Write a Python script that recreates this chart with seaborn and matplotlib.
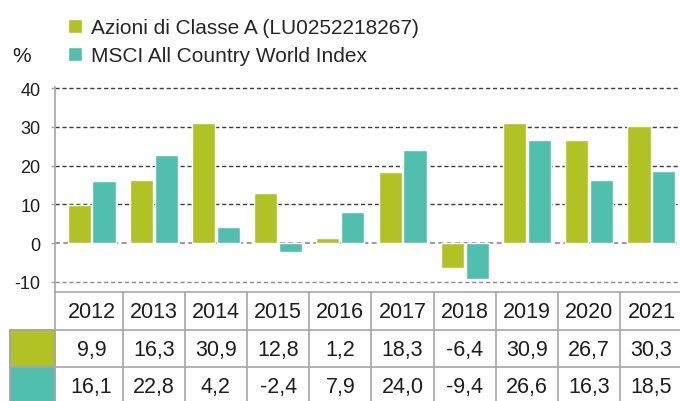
import numpy as np
import pandas as pd
import seaborn as sns
import matplotlib.pyplot as plt
from matplotlib.patches import Rectangle

# data
anni = ['2012', '2013', '2014', '2015', '2016', '2017', '2018', '2019', '2020', '2021']
classe_a = [9.9, 16.3, 30.9, 12.8, 1.2, 18.3, -6.4, 30.9, 26.7, 30.3]
msci_acwi = [16.1, 22.8, 4.2, -2.4, 7.9, 24.0, -9.4, 26.6, 16.3, 18.5]
serie = ['Azioni di Classe A (LU0252218267)', 'MSCI All Country World Index']
y_ticks = [-10, 0, 10, 20, 30, 40]

OLIVE = '#b1c324'
TEAL = '#50bfae'
GRID = '#a6a6a6'
TXT = '#1e1e1e'

sns.set_theme(style='white')
plt.rcParams['font.family'] = ['Liberation Sans', 'DejaVu Sans']
plt.rcParams['axes.unicode_minus'] = False

df = pd.DataFrame({
    'anno': anni * 2,
    'valore': classe_a + msci_acwi,
    'serie': [serie[0]] * len(anni) + [serie[1]] * len(anni),
})

W, H = 680, 402
fig = plt.figure(figsize=(W / 100, H / 100), dpi=100)


def px_box(x0, y0, x1, y1):
    return [x0 / W, 1 - y1 / H, (x1 - x0) / W, (y1 - y0) / H]


ax = fig.add_axes(px_box(54.5, 88, 680, 293))
sns.barplot(data=df, x='anno', y='valore', hue='serie', order=anni,
            palette=[OLIVE, TEAL], width=0.8, gap=0.07, saturation=1,
            ax=ax)

xlim = (-0.595, 9.46)
ax.set_xlim(*xlim)
ax.set_ylim(-12.63, 40.26)
ax.set_yticks(y_ticks)
ax.set_yticklabels([str(t) for t in y_ticks], fontsize=13, color=TXT)
ax.set_xticks([])
ax.set_xlabel('')
ax.set_ylabel('')
for s in ['top', 'right', 'bottom']:
    ax.spines[s].set_visible(False)
ax.spines['left'].set_color(GRID)
ax.spines['left'].set_linewidth(1.2)
ax.tick_params(axis='y', length=3, width=1, color=GRID, pad=7, left=True)
ax.set_axisbelow(True)
for t in y_ticks:
    ax.axhline(t, color='#8a8a8a' if t in (0, -10) else '#3c3c3c',
               lw=1.2 if t == 0 else 1.0, ls=(0, (3, 2)), zorder=0)

# legend
handles, labels = ax.get_legend_handles_labels()
ax.get_legend().remove()
fig.legend(handles, labels, loc='upper left', bbox_to_anchor=(68 / W, 1 - 19 / H),
           frameon=False, fontsize=15, handlelength=0.67, handleheight=0.67,
           handletextpad=0.45, labelspacing=0.45, borderpad=0, borderaxespad=0)
fig.text(12 / W, 1 - 56 / H, '%', fontsize=15, va='center', ha='left', color=TXT)

# table under the chart
tab = fig.add_axes(px_box(54.5, 293, 680, 402))
tab.set_xlim(*xlim)
tab.set_ylim(109 / 37.5, 0)
tab.axis('off')
sw_left = xlim[0] - 44.5 / 62.2
line_kw = dict(color=GRID, lw=1.2, clip_on=False)
tab.plot([xlim[0], xlim[1]], [0, 0], **line_kw)
for r in [1, 2]:
    tab.plot([sw_left, xlim[1]], [r, r], **line_kw)
tab.plot([xlim[0], xlim[0]], [0, 3], **line_kw)
tab.plot([sw_left, sw_left], [1, 3], **line_kw)
for i in range(len(anni) - 1):
    tab.plot([i + 0.5, i + 0.5], [0, 3], **line_kw)
for r, c in zip([1, 2], [OLIVE, TEAL]):
    tab.add_patch(Rectangle((sw_left, r), xlim[0] - sw_left, 1, facecolor=c,
                            edgecolor=GRID, lw=1.2, clip_on=False))

for i, a in enumerate(anni):
    tab.text(i, 0.53, a, ha='center', va='center', fontsize=15.5, color=TXT)
    for r, vals in zip([1, 2], [classe_a, msci_acwi]):
        tab.text(i, r + 0.53, f'{vals[i]:.1f}'.replace('.', ','), ha='center',
                 va='center', fontsize=15.5, color=TXT)

fig.savefig('out.png', dpi=100)
